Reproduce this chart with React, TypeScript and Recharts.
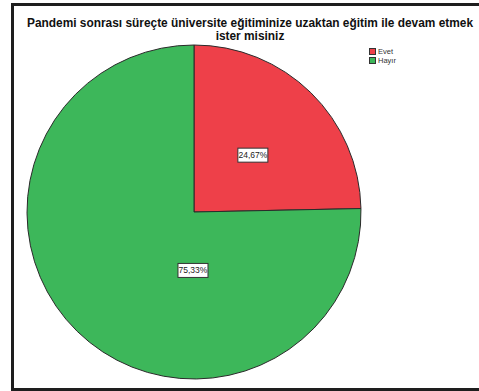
import { PieChart, Pie, Cell, Legend } from 'recharts';

const categories = ['Evet', 'Hayır'];
const values = [24.67, 75.33];
const labels = ['24,67%', '75,33%'];
const colors = ['#EE4049', '#3DB75A'];
// where the SPSS-style labels sit: [fraction of radius, angle in degrees]
const labelSpots: [number, number][] = [
  [0.49, 44],
  [0.35, -91],
];

const data = categories.map((name, i) => ({ name, value: values[i] }));

const RAD = Math.PI / 180;

function SliceLabel(props: any) {
  const { cx, cy, outerRadius, index } = props;
  const [f, a] = labelSpots[index];
  const x = cx + outerRadius * f * Math.cos(a * RAD);
  const y = cy - outerRadius * f * Math.sin(a * RAD);
  return (
    <g>
      <rect x={x - 15} y={y - 7} width={30} height={14} fill="#fff" stroke="#333" strokeWidth={1} />
      <text x={x} y={y + 3} textAnchor="middle" fontSize={8.5} fill="#222" fontFamily="Liberation Sans, Arial, sans-serif">
        {labels[index]}
      </text>
    </g>
  );
}

function LegendBox() {
  return (
    <div style={{ fontFamily: 'Liberation Sans, Arial, sans-serif', fontSize: 7.5, color: '#333' }}>
      {categories.map((c, i) => (
        <div key={c} style={{ display: 'flex', alignItems: 'center', height: 9 }}>
          <span style={{ width: 7, height: 7, background: colors[i], border: '1px solid #333', marginRight: 2, boxSizing: 'border-box' }} />
          {c}
        </div>
      ))}
    </div>
  );
}

export default function App() {
  return (
    <div style={{ position: 'absolute', left: 0, top: 0, width: 479, height: 391, background: '#fff', overflow: 'hidden' }}>
      <div
        style={{
          position: 'absolute', left: 11, top: 3, width: 479, height: 382,
          border: '3px solid #1e1e1e', borderRight: 'none',
        }}
      />
      <div
        style={{
          position: 'absolute', left: 0, top: 17, width: 500, textAlign: 'center', whiteSpace: 'nowrap',
          fontFamily: 'Liberation Sans, Arial, sans-serif', fontWeight: 'bold', fontSize: 11.9, lineHeight: '13px', color: '#111',
        }}
      >
        Pandemi sonrası süreçte üniversite eğitiminize uzaktan eğitim ile devam etmek
        <br />
        ister misiniz
      </div>
      <PieChart
        width={479}
        height={391}
        margin={{ top: 0, right: 0, bottom: 0, left: 0 }}
        style={{ position: 'absolute', left: 0, top: 0 }}
      >
        <Pie
          data={data}
          dataKey="value"
          nameKey="name"
          cx={194}
          cy={212}
          outerRadius={167}
          startAngle={90}
          endAngle={-270}
          stroke="#2a2a2a"
          strokeWidth={1}
          label={SliceLabel}
          labelLine={false}
          isAnimationActive={false}
        >
          {data.map((d, i) => (
            <Cell key={d.name} fill={colors[i]} />
          ))}
        </Pie>
        <Legend content={LegendBox} layout="vertical" wrapperStyle={{ position: 'absolute', left: 369, top: 47, width: 60 }} />
      </PieChart>
    </div>
  );
}
